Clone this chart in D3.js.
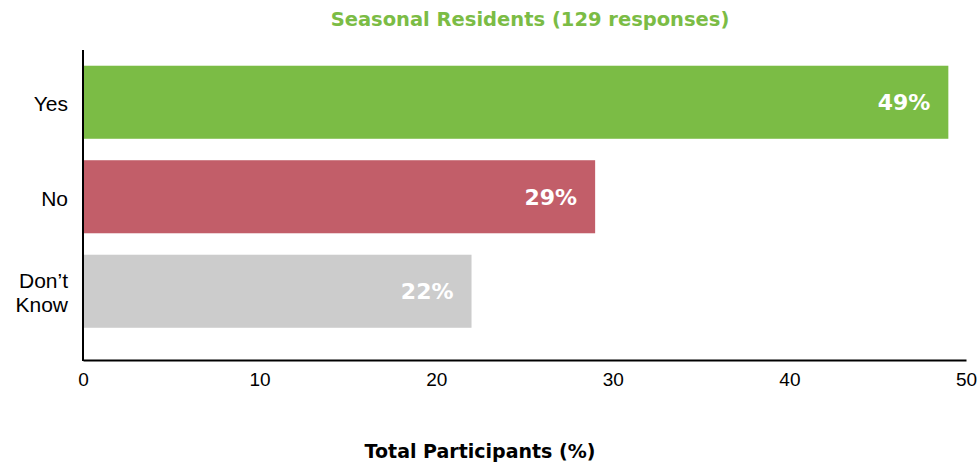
<!DOCTYPE html>
<html>
<head>
<meta charset="utf-8">
<script src="https://cdn.jsdelivr.net/npm/d3@7"></script>
<style>
  body { margin: 0; background: #fff; }
  svg { display: block; }
</style>
</head>
<body>
<div id="chart"></div>
<script>
var svgWidth = 980;
var svgHeight = 468;

// data
var categories = ["Yes", "No", "Don\u2019t Know"];
var values = [49, 29, 22];
var barColors = ["#7bbc45", "#c25e69", "#cccccc"];
var xTicks = [0, 10, 20, 30, 40, 50];

var svg = d3.select("#chart")
  .append("svg")
  .attr("width", svgWidth)
  .attr("height", svgHeight);

var xScale = d3.scaleLinear()
  .domain([0, 50])
  .range([83, 966]);

var yScale = d3.scaleBand()
  .domain(categories)
  .range([55, 338.5])
  .paddingInner(0.227)
  .paddingOuter(0.1135);

// title
svg.append("text")
  .attr("x", 530)
  .attr("y", 26)
  .attr("text-anchor", "middle")
  .attr("font-family", "'DejaVu Sans', sans-serif")
  .attr("font-weight", "bold")
  .attr("font-size", 19.5)
  .attr("fill", "#7bbc45")
  .text("Seasonal Residents (129 responses)");

// bars
svg.selectAll("rect.bar")
  .data(values)
  .enter()
  .append("rect")
  .attr("class", "bar")
  .attr("x", xScale(0))
  .attr("y", (d, i) => yScale(categories[i]))
  .attr("width", d => xScale(d) - xScale(0))
  .attr("height", yScale.bandwidth())
  .attr("fill", (d, i) => barColors[i]);

// value labels
svg.selectAll("text.val")
  .data(values)
  .enter()
  .append("text")
  .attr("class", "val")
  .attr("x", d => xScale(d) - 18)
  .attr("y", (d, i) => yScale(categories[i]) + yScale.bandwidth() / 2 + 8)
  .attr("text-anchor", "end")
  .attr("font-family", "'DejaVu Sans', sans-serif")
  .attr("font-weight", "bold")
  .attr("font-size", 22)
  .attr("fill", "#fff")
  .text(d => d + "%");

// x axis
var xAxis = svg.append("g")
  .attr("transform", "translate(0,360)")
  .call(d3.axisBottom(xScale).tickValues(xTicks).tickSize(0).tickPadding(13));
xAxis.select(".domain").attr("stroke", "#000").attr("stroke-width", 2);
xAxis.selectAll("text")
  .attr("font-family", "'Liberation Sans', Arial, sans-serif")
  .attr("font-size", 19)
  .attr("fill", "#000");

// y axis line
svg.append("line")
  .attr("x1", xScale(0))
  .attr("x2", xScale(0))
  .attr("y1", 50)
  .attr("y2", 361)
  .attr("stroke", "#000")
  .attr("stroke-width", 2);

// category labels
categories.forEach(function(c, i) {
  var words = c === "Don\u2019t Know" ? ["Don\u2019t", "Know"] : [c];
  var cy = yScale(c) + yScale.bandwidth() / 2;
  var t = svg.append("text")
    .attr("text-anchor", "end")
    .attr("font-family", "'Liberation Sans', Arial, sans-serif")
    .attr("font-size", 21)
    .attr("fill", "#000");
  words.forEach(function(w, j) {
    t.append("tspan")
      .attr("x", 68)
      .attr("y", cy + 9 + (j - (words.length - 1) / 2) * 24)
      .text(w);
  });
});

// x axis title
svg.append("text")
  .attr("x", 480)
  .attr("y", 458)
  .attr("text-anchor", "middle")
  .attr("font-family", "'DejaVu Sans', sans-serif")
  .attr("font-weight", "bold")
  .attr("font-size", 19)
  .attr("fill", "#000")
  .text("Total Participants (%)");
</script>
</body>
</html>
